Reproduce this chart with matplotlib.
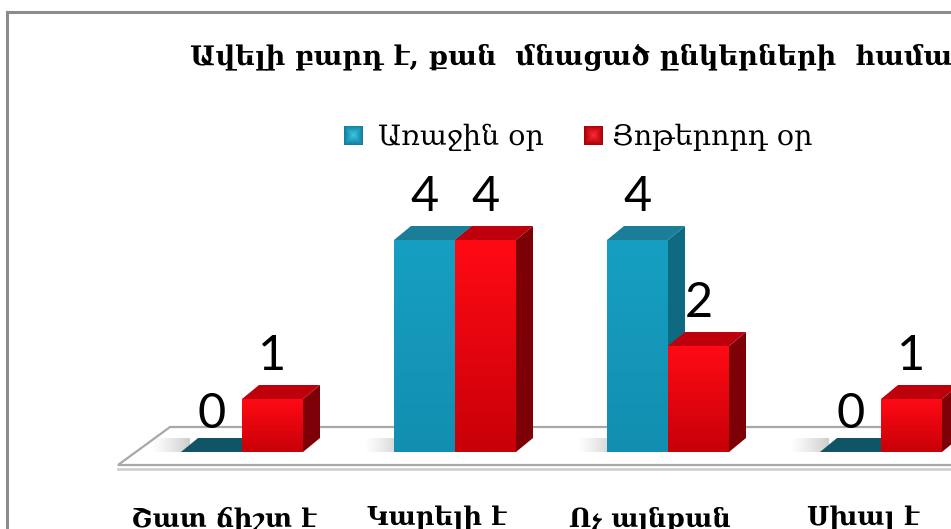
import numpy as np
import matplotlib
matplotlib.use("Agg")
import matplotlib.pyplot as plt
from matplotlib.patches import Polygon, Rectangle
from matplotlib.lines import Line2D

# ---- data ----
categories = ["Շատ ճիշտ է", "Կարելի է", "Ոչ այնքան", "Սխալ է"]
series_names = ["Առաջին օր", "Յոթերորդ օր"]
day1 = [0, 4, 4, 0]
day7 = [1, 4, 2, 1]
title = "Ավելի բարդ է, քան  մնացած ընկերների  համար"

W, H = 951, 529
fig = plt.figure(figsize=(W / 100, H / 100), dpi=100)
fig.patch.set_facecolor("white")

ax = fig.add_axes([135.5 / W, 77 / H, 852 / W, 265 / H])
ax.set_xlim(-0.5, 3.5)
ax.set_ylim(0, 5)
ax.axis("off")

# frame border of chart area
fig.add_artist(Line2D([7 / W, 7 / W], [0, 1 - 12 / H], transform=fig.transFigure,
                      color="#8c8c8c", lw=2.2))
fig.add_artist(Line2D([7 / W, 1.0], [1 - 12 / H, 1 - 12 / H], transform=fig.transFigure,
                      color="#8c8c8c", lw=2.2))

px_x = 213.0
px_y = 53.0
bw = 61 / px_x
dx = 17 / px_x
dy = 14 / px_y

# floor
fl_front = -13 / px_y
fl_back = 25 / px_y
fl_fl = (118 - 242) / px_x
fl_bl = (170 - 242) / px_x
floor = Polygon([(fl_fl, fl_front), (4.5, fl_front), (4.5, fl_back), (fl_bl, fl_back)],
                closed=True, facecolor="white", edgecolor="#a8a8a8", lw=1.6, clip_on=False, zorder=1)
ax.add_patch(floor)
ax.plot([fl_fl, 4.5], [fl_front - 3.5 / px_y] * 2, color="#d0d0d0", lw=2.0, clip_on=False, zorder=1)

def grad_img(c_top, c_bot, n=64):
    c_top = np.array(matplotlib.colors.to_rgb(c_top))
    c_bot = np.array(matplotlib.colors.to_rgb(c_bot))
    t = np.linspace(0, 1, n)[:, None]
    img = c_top * (1 - t) + c_bot * t
    return img[:, None, :]

def shadow(x0):
    n = 40
    a = np.linspace(0, 0.45, n) ** 1.2
    img = np.zeros((1, n, 4))
    img[0, :, :3] = 0.5
    img[0, :, 3] = a
    ax.imshow(img, extent=(x0 - 0.14, x0 + dx * 0.5, 0, dy), aspect="auto",
              zorder=2, clip_on=False, interpolation="bilinear")

def bar3d(x0, h, front, top, side, grad=None):
    x1 = x0 + bw
    if h > 0:
        if grad is not None:
            ax.imshow(grad_img(*grad), extent=(x0, x1, 0, h), aspect="auto",
                      zorder=3, clip_on=False, interpolation="bilinear")
        else:
            ax.add_patch(Rectangle((x0, 0), bw, h, facecolor=front, edgecolor="none", zorder=3))
        ax.add_patch(Polygon([(x1, 0), (x1 + dx, dy), (x1 + dx, h + dy), (x1, h)],
                             facecolor=side, edgecolor="none", zorder=3, clip_on=False))
    ax.add_patch(Polygon([(x0, h), (x1, h), (x1 + dx, h + dy), (x0 + dx, h + dy)],
                         facecolor=top, edgecolor="none", zorder=3, clip_on=False))

xs = np.arange(len(categories))
for i in xs:
    shadow(i - bw)

for i in xs:
    x0 = i - bw
    h = day1[i]
    if h > 0:
        bar3d(x0, h, "#149bbe", "#1a7e99", "#0e6a80", grad=("#169fc2", "#128fb0"))
    else:
        bar3d(x0, h, "#149bbe", "#0f5566", "#0e6a80")
    x0 = i
    h = day7[i]
    bar3d(x0, h, "#e8000a", "#bd000c", "#7d0006", grad=("#ff0a14", "#c80008"))

ax.set_xlim(-0.5, 3.5)
ax.set_ylim(0, 5)

# data labels
lab_font = dict(family=["Lato", "DejaVu Sans"], fontsize=35, color="black")
for i in xs:
    for off, vals in ((-bw / 2, day1), (bw / 2, day7)):
        v = vals[i]
        extra = 24 if v == 0 else 29
        ax.annotate(str(v), xy=(i + off, v), xytext=(0, extra * 0.72), textcoords="offset points",
                    ha="center", va="baseline", zorder=5, annotation_clip=False, **lab_font)

# category labels
for i, c in enumerate(categories):
    ax.text(i - 0.085, -54 / px_y, c, ha="center", va="top", fontsize=18.5, fontweight="bold",
            family=["DejaVu Serif", "DejaVu Sans"], clip_on=False)

# title
fig.text(190 / W, 1 - 57 / H, title, ha="left", va="center", fontsize=19.5, fontweight="bold",
         family=["DejaVu Serif", "DejaVu Sans"])

# legend
leg_y = 1 - 137 / H
def legend_square(xpx, c_light, c_dark):
    n = 20
    yy, xx = np.mgrid[-1:1:n * 1j, -1:1:n * 1j]
    r = np.clip(np.maximum(abs(xx), abs(yy)), 0, 1)
    cl = np.array(matplotlib.colors.to_rgb(c_light))
    cd = np.array(matplotlib.colors.to_rgb(c_dark))
    img = cl * (1 - r[..., None]) + cd * r[..., None]
    iax = fig.add_axes([xpx / W, 1 - 145 / H, 19 / W, 19 / H])
    iax.imshow(img, aspect="auto", interpolation="bilinear")
    iax.axis("off")

legend_square(344, "#3cc6e8", "#127f9c")
fig.text(378 / W, leg_y, series_names[0], ha="left", va="center", fontsize=20.5,
         family=["DejaVu Serif", "DejaVu Sans"])
legend_square(584, "#ff2a30", "#a80008")
fig.text(612 / W, leg_y, series_names[1], ha="left", va="center", fontsize=20.5,
         family=["DejaVu Serif", "DejaVu Sans"])

fig.savefig("out.png", dpi=100)
